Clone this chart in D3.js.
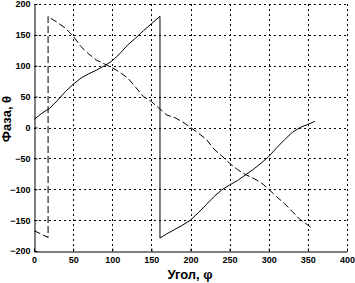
<!DOCTYPE html>
<html>
<head>
<meta charset="utf-8">
<script src="https://cdn.jsdelivr.net/npm/d3@7"></script>
<style>
  body { margin: 0; background: #fff; }
  svg text { font-family: "Liberation Sans", "DejaVu Sans", sans-serif; fill: #000; }
</style>
</head>
<body>
<svg width="355" height="283"></svg>
<script>
// angle values (phi) and phase curves (theta)
var phiSolid = [0, 10, 20, 30, 40, 50, 60, 70, 80, 90, 100, 110, 120, 130, 140, 150, 161, 161,
    170, 180, 190, 200, 210, 220, 230, 240, 250, 260, 270, 280, 290, 300, 310, 320, 330, 340, 350, 359]
var thetaSolid = [13, 23, 31, 44, 58, 70, 80, 87, 93, 100, 108, 120, 134, 145, 157, 168, 180, -179,
    -172, -165, -158, -150, -138, -125, -112, -101, -93, -86, -77, -68, -58, -47, -33, -20, -8, 0, 5, 10]

var phiDashed = [0, 18, 18, 20, 30, 40, 50, 60, 70, 80, 90, 100, 110, 120, 130, 140, 150, 160, 170,
    180, 190, 200, 210, 220, 230, 240, 250, 260, 270, 280, 290, 300, 310, 320, 330, 340, 350, 355]
var thetaDashed = [-167, -178, 180, 178, 170, 161, 148, 131, 119, 109, 103, 97, 89, 80, 65, 50, 42, 31, 20,
    16, 9, 0, -9, -19, -35, -46, -58, -68, -76, -82, -89, -100, -112, -123, -136, -149, -158, -163]

var xTicks = [0, 50, 100, 150, 200, 250, 300, 350, 400]
var yTicks = [-200, -150, -100, -50, 0, 50, 100, 150, 200]

var svg = d3.select("svg"),
    width = +svg.attr("width"),
    height = +svg.attr("height")

var margin = { top: 4, right: 8, bottom: 32, left: 34 }

var x = d3.scaleLinear()
    .domain([0, 400])
    .range([margin.left, width - margin.right])

var y = d3.scaleLinear()
    .domain([-200, 200])
    .range([height - margin.bottom, margin.top])

// dotted grid
svg.append("g")
    .selectAll("line")
    .data(xTicks.slice(1))
    .join("line")
    .attr("x1", d => Math.round(x(d)) + 0.5)
    .attr("x2", d => Math.round(x(d)) + 0.5)
    .attr("y1", y(-200))
    .attr("y2", y(200))
    .attr("stroke", "#000")
    .attr("stroke-dasharray", "2,3")

svg.append("g")
    .selectAll("line")
    .data(yTicks.slice(1))
    .join("line")
    .attr("x1", x(0))
    .attr("x2", x(400))
    .attr("y1", d => Math.round(y(d)) + 0.5)
    .attr("y2", d => Math.round(y(d)) + 0.5)
    .attr("stroke", "#000")
    .attr("stroke-dasharray", "2,3")

// axes
var xAxis = svg.append("g")
    .attr("transform", "translate(0," + (Math.round(y(-200)) + 0.5) + ")")
    .call(d3.axisBottom(x).tickValues(xTicks).tickSizeInner(-3).tickSizeOuter(0).tickPadding(5))
xAxis.selectAll("text").attr("font-size", 9).attr("font-weight", "bold")

var yAxis = svg.append("g")
    .attr("transform", "translate(" + (Math.round(x(0)) + 0.5) + ",0)")
    .call(d3.axisLeft(y).tickValues(yTicks).tickSizeInner(-3).tickSizeOuter(0).tickPadding(4))
yAxis.selectAll("text").attr("font-size", 9).attr("font-weight", "bold")

svg.selectAll(".domain").attr("stroke", "#000")

var line = d3.line()
    .x(d => x(d[0]))
    .y(d => y(d[1]))

svg.append("path")
    .datum(d3.zip(phiSolid, thetaSolid))
    .attr("d", line)
    .attr("fill", "none")
    .attr("stroke", "#000")
    .attr("stroke-width", 1)

svg.append("path")
    .datum(d3.zip(phiDashed, thetaDashed))
    .attr("d", line)
    .attr("fill", "none")
    .attr("stroke", "#000")
    .attr("stroke-width", 1)
    .attr("stroke-dasharray", "7,3")

// axis titles
svg.append("text")
    .attr("x", 190)
    .attr("y", 279)
    .attr("text-anchor", "middle")
    .attr("font-size", 13)
    .attr("font-weight", "bold")
    .text("Угол, φ")

svg.append("text")
    .attr("transform", "translate(11,119) rotate(-90)")
    .attr("text-anchor", "middle")
    .attr("font-size", 13)
    .attr("font-weight", "bold")
    .text("Фаза, θ")
</script>
</body>
</html>
